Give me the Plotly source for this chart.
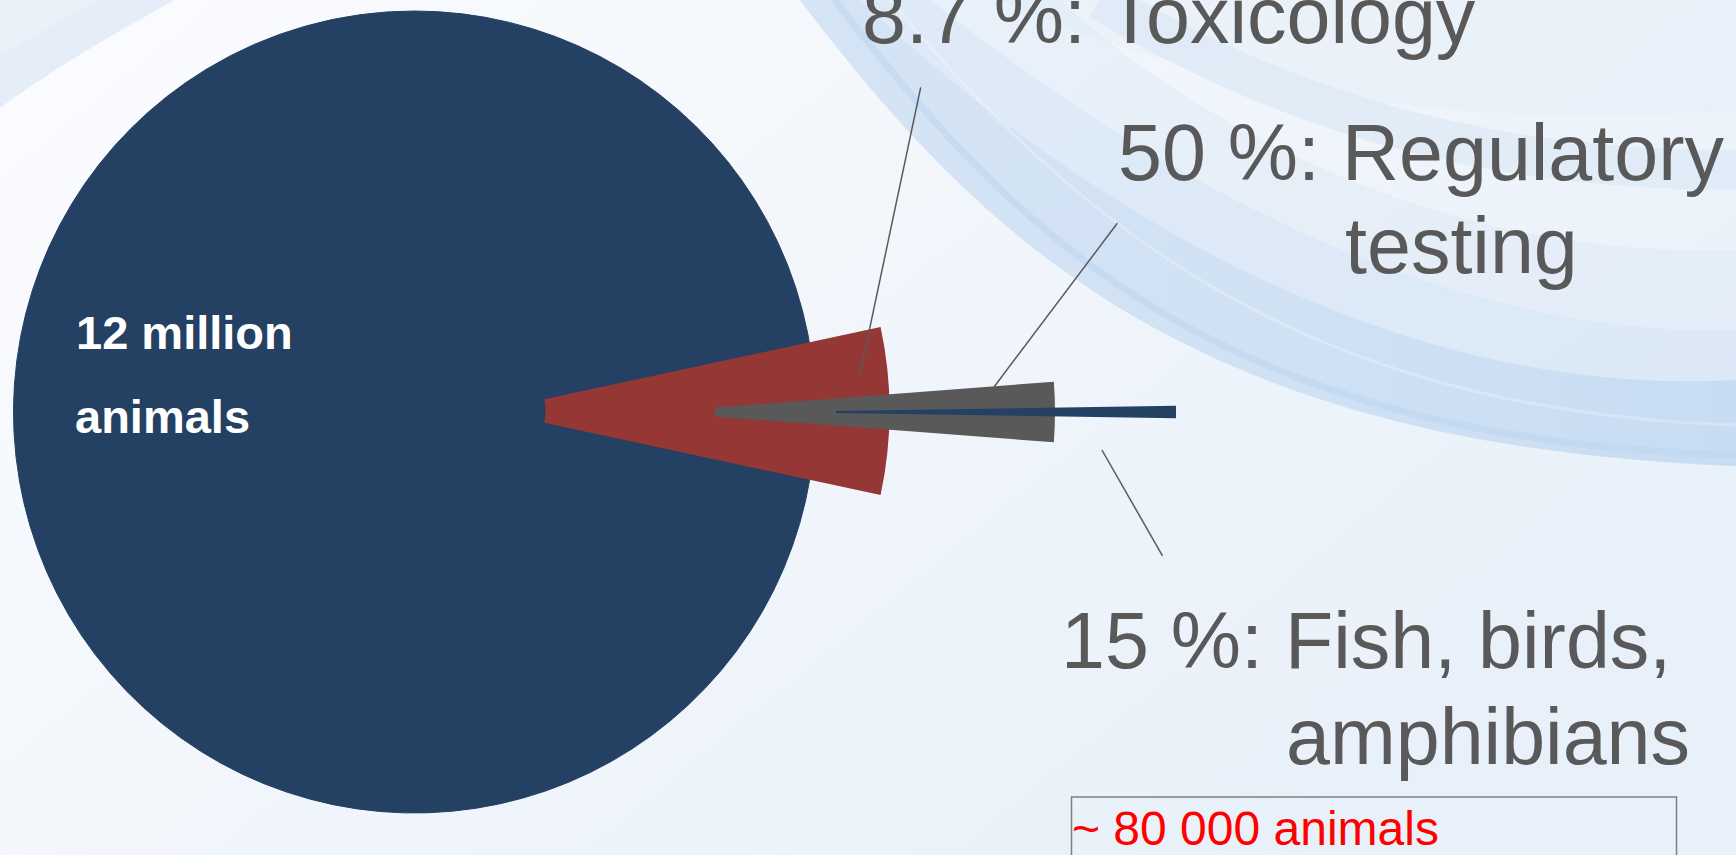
import base64
import plotly.graph_objects as go

# ---------------- data ----------------
main_labels = ["Other uses", "Toxicology"]
main_values = [91.3, 8.7]
main_caption = ["12 million", "animals"]

wedge_labels = ["Toxicology", "Regulatory testing", "Fish, birds, amphibians"]
wedge_share = [6.73, 2.41, 0.5]          # visible share of a full turn (%) for each exploded wedge
wedge_colors = ["#953735", "#595959", "#244062"]

label_lines = [
    ["8.7 %: Toxicology"],
    ["50 %: Regulatory", "testing"],
    ["15 %: Fish, birds,", "amphibians"],
]
note_text = "~ 80 000 animals"

# ---------------- layout constants (pixels) ----------------
W, H = 1736, 855
NAVY = "#244062"
TEXT_GRAY = "#595959"
FONT = "Liberation Sans, Arial, sans-serif"

main_center = (414.5, 412.0)
main_radius = 401.0
wedge_centers = [(489.5, 411.0), (655.0, 412.0), (776.0, 412.0)]
wedge_radius = 400.0
wedge_holes = [0.14, 0.15, 0.15]


def pie_domain(cx, cy, r):
    return dict(x=[(cx - r) / W, (cx + r) / W], y=[(H - cy - r) / H, (H - cy + r) / H])


def px(x):
    return x / W


def py(y):
    return 1 - y / H


fig = go.Figure()

# big disc
fig.add_trace(go.Pie(
    labels=main_labels, values=main_values, sort=False,
    marker=dict(colors=[NAVY, NAVY], line=dict(color=NAVY, width=1)),
    textinfo="none", hoverinfo="label+value", showlegend=False,
    domain=pie_domain(*main_center, main_radius),
))

# exploded wedges
for lab, share, col, (cx, cy), hole in zip(wedge_labels, wedge_share, wedge_colors, wedge_centers, wedge_holes):
    fig.add_trace(go.Pie(
        labels=[lab, "rest"], values=[share, 100 - share], sort=False,
        direction="clockwise", rotation=90 - 360 * share / 100 / 2,
        hole=hole,
        marker=dict(colors=[col, "rgba(0,0,0,0)"], line=dict(width=0)),
        textinfo="none", hoverinfo="skip", showlegend=False,
        domain=pie_domain(cx, cy, wedge_radius),
    ))

annotations = []


def add_text(text, left, baseline, size, color, bold=False):
    t = f"<b>{text}</b>" if bold else text
    annotations.append(dict(
        text=t, xref="paper", yref="paper",
        x=px(left - 3), y=py(baseline - 0.3465 * size),
        xanchor="left", yanchor="middle", showarrow=False,
        font=dict(family=FONT, size=size, color=color),
    ))


# category labels
label_pos = [
    [(863, 43)],
    [(1119, 180), (1346, 273)],
    [(1062, 668), (1287, 764)],
]
for lines, poss in zip(label_lines, label_pos):
    for txt, (lx, bl) in zip(lines, poss):
        add_text(txt, lx, bl, 79, TEXT_GRAY)

# caption in the disc
add_text(main_caption[0], 77, 349, 47, "white", bold=True)
add_text(main_caption[1], 76, 433, 47, "white", bold=True)

# red note in box
add_text(note_text, 1073, 845, 48, "#FF0000")

shapes = []
leaders = [((920.7, 87.3), (860.2, 373.3)),
           ((1117.3, 223.3), (994.2, 386.7)),
           ((1101.9, 450.0), (1162.5, 555.8))]
for (x0, y0), (x1, y1) in leaders:
    shapes.append(dict(type="line", xref="paper", yref="paper",
                       x0=px(x0), y0=py(y0), x1=px(x1), y1=py(y1),
                       line=dict(color=TEXT_GRAY, width=1.5)))
shapes.append(dict(type="rect", xref="paper", yref="paper",
                   x0=px(1071.5), y0=py(797), x1=px(1676.5), y1=py(880),
                   line=dict(color="#7F7F7F", width=1.5), fillcolor="rgba(0,0,0,0)"))

# decorative slide background (gradient + swooshes)
lower = "M 800 0 C 990 250 1200 445 1736 466"
svg = f'''<svg xmlns="http://www.w3.org/2000/svg" width="{W}" height="{H}" viewBox="0 0 {W} {H}">
<defs>
<linearGradient id="bg" x1="0" y1="0" x2="1" y2="0.6">
<stop offset="0" stop-color="#FBFCFE"/>
<stop offset="0.45" stop-color="#F3F7FC"/>
<stop offset="1" stop-color="#E8F0F9"/>
</linearGradient>
<linearGradient id="fade" x1="0" y1="0" x2="1" y2="0">
<stop offset="0" stop-color="#C4DAF1" stop-opacity="0.35"/>
<stop offset="0.5" stop-color="#C4DAF1" stop-opacity="0.5"/>
<stop offset="1" stop-color="#BFD7F0" stop-opacity="0.7"/>
</linearGradient>
</defs>
<rect width="{W}" height="{H}" fill="url(#bg)"/>
<path d="M 1000 0 C 1200 90 1450 130 1736 110 L 1736 0 Z" fill="#E3EDF8" fill-opacity="0.5"/>
<path d="M 1100 0 C 1300 120 1500 170 1736 170" fill="none" stroke="#DCE8F5" stroke-opacity="0.7" stroke-width="40"/>
<path d="{lower} L 1736 250 C 1450 260 1200 130 1060 0 Z" fill="#DDE9F6" fill-opacity="0.5"/>
<path d="{lower} L 1736 330 C 1420 340 1120 150 930 0 Z" fill="#D3E4F5" fill-opacity="0.5"/>
<path d="{lower} L 1736 380 C 1380 400 1060 190 860 0 Z" fill="url(#fade)"/>
<path d="M 835 0 C 1015 235 1215 440 1736 455" fill="none" stroke="#BCD5EF" stroke-opacity="0.55" stroke-width="7"/>
<path d="M 890 0 C 1070 215 1290 410 1736 425" fill="none" stroke="#FFFFFF" stroke-opacity="0.25" stroke-width="3"/>
<path d="M 0 0 L 175 0 C 110 35 45 75 0 108 Z" fill="#DCE8F5" fill-opacity="0.7"/>
<path d="M 0 0 L 100 0 C 65 18 30 38 0 56 Z" fill="#EAF1F9" fill-opacity="0.8"/>
</svg>'''
src = "data:image/svg+xml;base64," + base64.b64encode(svg.encode()).decode()

fig.update_layout(
    width=W, height=H, autosize=False,
    margin=dict(l=0, r=0, t=0, b=0, pad=0),
    paper_bgcolor="#F5F8FC", plot_bgcolor="rgba(0,0,0,0)",
    showlegend=False,
    annotations=annotations, shapes=shapes,
    images=[dict(source=src, xref="paper", yref="paper", x=0, y=1, sizex=1, sizey=1,
                 xanchor="left", yanchor="top", sizing="stretch", layer="below")],
)

fig.write_html("out.html", config={"displayModeBar": False},
               post_script="document.body.style.margin='0';document.body.style.overflow='hidden';")
